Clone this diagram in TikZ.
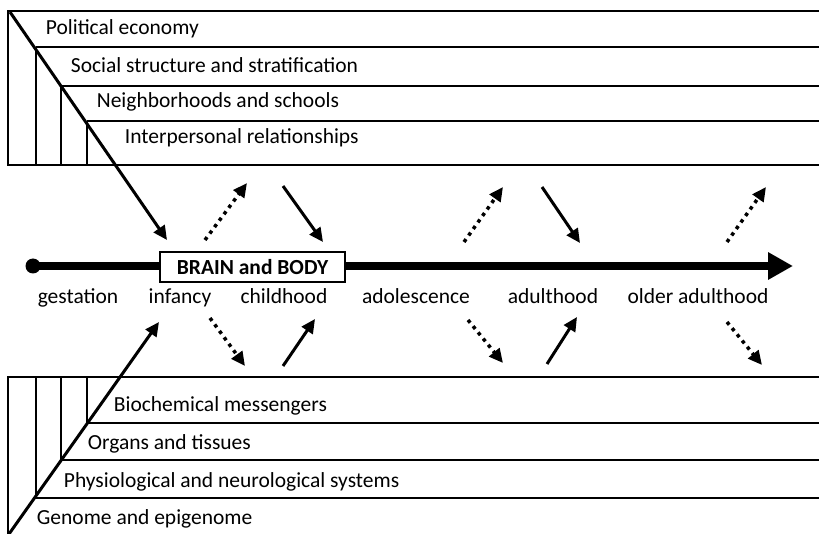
\documentclass[tikz,border=0pt]{standalone}
\usepackage{fontspec}
\setmainfont{Carlito}
\usetikzlibrary{arrows.meta}
\begin{document}
\begin{tikzpicture}[x=1pt,y=-1pt,line width=1.8pt,
  lbl/.style={inner sep=0pt,font=\fontsize{21.5}{25}\selectfont},
  solidarr/.style={line width=3pt,-{Triangle[length=14pt,width=13pt]}},
  dotarr/.style={line width=3.5pt,dash pattern=on 3.5pt off 4.5pt,-{Triangle[length=14pt,width=13pt]}}]
\useasboundingbox (0,0) rectangle (819,534);
\fill[white] (0,0) rectangle (819,534);
\draw (819,11) -- (8,11) -- (8,165) -- (819,165);
\foreach \x/\y in {36/47,61/86,87/121} {
  \draw (\x,\y) -- (819,\y);
  \draw (\x,\y) -- (\x,165);
}
\draw (819,377) -- (8,377) -- (8,534);
\foreach \x/\y in {36/498,61/460,87/423} {
  \draw (\x,\y) -- (819,\y);
  \draw (\x,377) -- (\x,\y);
}
\node[lbl,anchor=base west] (pe) at (45,35) {Political economy};
\node[lbl,anchor=base west] (ss) at (70,73) {Social structure and stratification};
\node[lbl,anchor=base west] (nh) at (96,108) {Neighborhoods and schools};
\node[lbl,anchor=base west] (ip) at (124,144) {Interpersonal relationships};
\node[lbl,anchor=base west] (bm) at (113,411) {Biochemical messengers};
\node[lbl,anchor=base west] (ot) at (87,449) {Organs and tissues};
\node[lbl,anchor=base west] (pn) at (63,487) {Physiological and neurological systems};
\node[lbl,anchor=base west] (ge) at (36,524) {Genome and epigenome};
\draw[line width=8pt,-{Triangle[length=25pt,width=26pt]}] (33,266) -- (793,266);
\fill (33,266) circle (7.5);
\node[lbl,draw,fill=white,line width=1.8pt,minimum width=185pt,minimum height=30pt,inner sep=0pt,font=\fontsize{21.5}{25}\selectfont\bfseries] (brain) at (252.5,267) {BRAIN and BODY};
\foreach \x/\t/\n in {78/gestation/gest,180/infancy/inf,284/childhood/child,416/adolescence/adol,553/adulthood/adult,698/older adulthood/older} {
  \node[lbl,anchor=base] (\n) at (\x,304) {\t};
}
\coordinate (tl) at (10,12);
\coordinate (bl) at (9,534);
\coordinate (toptip) at (167,240);
\coordinate (bottip) at (159,322);
\draw[solidarr] (tl) -- (toptip);
\draw[solidarr] (bl) -- (bottip);
\foreach \x/\y/\dx/\dy in {205/240/42/-57,464/242/39/-55,727/242/39/-55,210/318/35/48,468/320/35/43,727/322/35/43} {
  \draw[dotarr] (\x,\y) -- ++(\dx,\dy);
}
\foreach \x/\y/\dx/\dy in {283/186/40/56,542/187/38/56,283/366/32/-47,547/364/30/-47} {
  \draw[solidarr] (\x,\y) -- ++(\dx,\dy);
}
\end{tikzpicture}
\end{document}
